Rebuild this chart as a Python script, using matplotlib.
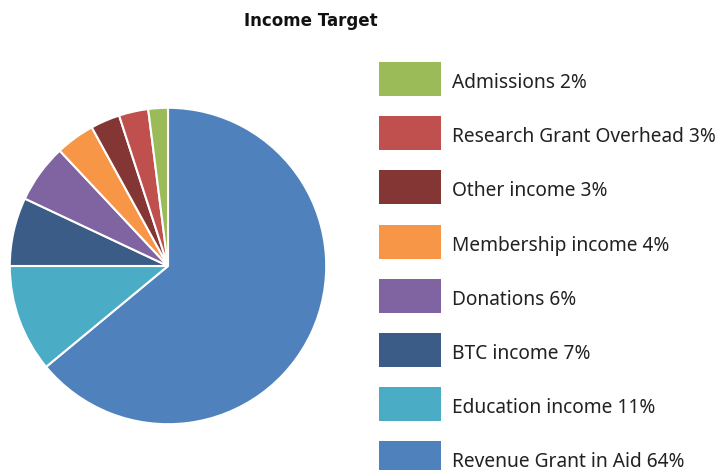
import matplotlib.pyplot as plt
from matplotlib.patches import Rectangle

# data (clockwise from top)
labels = ['Revenue Grant in Aid', 'Education income', 'BTC income', 'Donations',
          'Membership income', 'Other income', 'Research Grant Overhead', 'Admissions']
values = [64, 11, 7, 6, 4, 3, 3, 2]
colors = ['#4F81BD', '#4BACC6', '#3A5C86', '#8064A2',
          '#F79646', '#833634', '#C0504D', '#9BBB59']

plt.rcParams['font.family'] = ['Noto Sans', 'DejaVu Sans']

W, H = 724, 470
fig = plt.figure(figsize=(W / 100, H / 100), dpi=100)

# pie
ax = fig.add_axes([9 / W, (H - 425) / H, 318 / W, 318 / H])
ax.pie(values, colors=colors, startangle=90, counterclock=False, radius=1,
       wedgeprops=dict(edgecolor='white', linewidth=1.5))
ax.set_xlim(-1.005, 1.005)
ax.set_ylim(-1.005, 1.005)
ax.set_aspect('equal')
ax.axis('off')

fig.text(311 / W, 1 - 21 / H, 'Income Target', ha='center', va='center',
         fontsize=12, fontweight='bold', family=['DejaVu Sans'],
         color='#111111')

# legend, reversed order (smallest on top)
for i, (lab, val, col) in enumerate(zip(labels[::-1], values[::-1], colors[::-1])):
    top = 62 + i * 54.2
    fig.patches.append(Rectangle((379 / W, 1 - (top + 34) / H), 62 / W, 34 / H,
                                 transform=fig.transFigure, facecolor=col,
                                 edgecolor='none'))
    fig.text(452 / W, 1 - (top + 21) / H, f'{lab} {val}%', ha='left', va='center',
             fontsize=13.8, color='#222222')

fig.savefig('out.png', dpi=100)
